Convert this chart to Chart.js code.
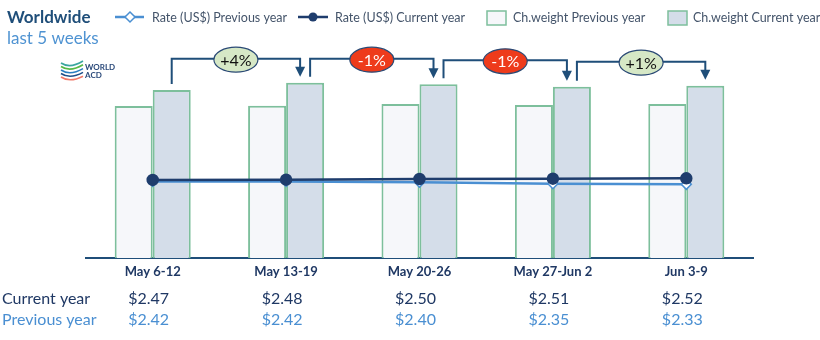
<!DOCTYPE html>
<html>
<head>
<meta charset="utf-8">
<script src="https://cdn.jsdelivr.net/npm/chart.js@4.4.1/dist/chart.umd.min.js"></script>
<style>
  body { margin: 0; background: #fff; }
  #wrap { width: 820px; height: 340px; }
</style>
</head>
<body>
<div id="wrap"><canvas id="chart" width="820" height="340"></canvas></div>
<script>
// weekly worldwide figures
const weeks = ["May 6-12", "May 13-19", "May 20-26", "May 27-Jun 2", "Jun 3-9"];
const weightPrev = [152, 152.3, 154, 153, 154];
const weightCurr = [168, 175.3, 173.7, 171.3, 172.3];
const ratePrev = [2.42, 2.42, 2.40, 2.35, 2.33];
const rateCurr = [2.47, 2.48, 2.50, 2.51, 2.52];

const NAVY = "#1f4e79";
const DARK = "#1f3d6d";
const LIGHT = "#4a8fd2";
const GREEN = "#7dbf9c";
const FILL_PREV = "#f6f7fa";
const FILL_CURR = "#d4dde9";
const FONT = "Lato, 'Open Sans', sans-serif";

function pctLabel(a, b) {
  const p = Math.round((b / a - 1) * 100);
  return (p > 0 ? "+" : "") + p + "%";
}

// week-over-week arrows between the current year bars
const changeArrows = {
  id: "changeArrows",
  afterDatasetsDraw(chart) {
    const ctx = chart.ctx;
    const bars = chart.getDatasetMeta(1).data;
    const n = bars.length;
    ctx.save();
    for (let i = 0; i < n - 1; i++) {
      const a = bars[i], b = bars[i + 1];
      const x1 = a.x + (i > 0 ? 5 : 0);
      const x2 = b.x - (i + 1 < n - 1 ? 5 : 0);
      const level = Math.min(a.y, b.y) - 24;
      const tip = b.y - 6;
      ctx.strokeStyle = NAVY;
      ctx.lineWidth = 2;
      ctx.beginPath();
      ctx.moveTo(x1, a.y - 6);
      ctx.lineTo(x1, level);
      ctx.lineTo(x2, level);
      ctx.lineTo(x2, tip - 9);
      ctx.stroke();
      ctx.fillStyle = NAVY;
      ctx.beginPath();
      ctx.moveTo(x2 - 5, tip - 10);
      ctx.lineTo(x2 + 5, tip - 10);
      ctx.lineTo(x2, tip);
      ctx.closePath();
      ctx.fill();

      const label = pctLabel(weightCurr[i], weightCurr[i + 1]);
      const up = !label.startsWith("-");
      const cx = (x1 + x2) / 2;
      ctx.beginPath();
      ctx.ellipse(cx, level + 1, 22, 12.5, 0, 0, Math.PI * 2);
      ctx.fillStyle = up ? "#d6e8c6" : "#ee3b1b";
      ctx.fill();
      ctx.lineWidth = 1.2;
      ctx.strokeStyle = "#2b4a75";
      ctx.stroke();
      ctx.fillStyle = up ? "#111" : "#fff";
      ctx.font = "16px " + FONT;
      ctx.textAlign = "center";
      ctx.textBaseline = "middle";
      ctx.fillText(label, cx, level + 2);
    }
    ctx.restore();
  }
};

// title, legend, logo and the rate table underneath
const decorations = {
  id: "decorations",
  afterDraw(chart) {
    const ctx = chart.ctx;
    const xs = chart.scales.x;
    ctx.save();
    ctx.textBaseline = "alphabetic";
    ctx.textAlign = "left";
    ctx.fillStyle = NAVY;
    ctx.font = "bold 17px " + FONT;
    ctx.fillText("Worldwide", 7, 23);
    ctx.fillStyle = "#4f93d2";
    ctx.font = "17px " + FONT;
    ctx.fillText("last 5 weeks", 7, 44);

    // legend
    ctx.font = "12.5px " + FONT;
    ctx.textBaseline = "middle";
    ctx.lineWidth = 2.5;
    ctx.strokeStyle = LIGHT;
    ctx.beginPath(); ctx.moveTo(115, 17); ctx.lineTo(144, 17); ctx.stroke();
    ctx.beginPath();
    ctx.moveTo(130, 12); ctx.lineTo(135, 17); ctx.lineTo(130, 22); ctx.lineTo(125, 17); ctx.closePath();
    ctx.fillStyle = "#fff"; ctx.fill();
    ctx.lineWidth = 1.5; ctx.stroke();

    ctx.lineWidth = 2.5;
    ctx.strokeStyle = DARK;
    ctx.beginPath(); ctx.moveTo(298, 17); ctx.lineTo(328, 17); ctx.stroke();
    ctx.beginPath(); ctx.arc(313, 17, 4.5, 0, Math.PI * 2); ctx.fillStyle = DARK; ctx.fill();

    ctx.lineWidth = 1.5;
    ctx.strokeStyle = GREEN;
    ctx.fillStyle = FILL_PREV;
    ctx.fillRect(487, 11, 19, 14); ctx.strokeRect(487, 11, 19, 14);
    ctx.fillStyle = FILL_CURR;
    ctx.fillRect(668, 11, 19, 14); ctx.strokeRect(668, 11, 19, 14);

    ctx.fillStyle = "#44546a";
    ctx.fillText("Rate (US$) Previous year", 152, 18);
    ctx.fillText("Rate (US$) Current year", 335, 18);
    ctx.fillText("Ch.weight Previous year", 513, 18);
    ctx.fillText("Ch.weight Current year", 693, 18);

    // WorldACD logo
    const swoosh = ["#3aa6a0", "#57b947", "#2a7fc1", "#1e4f8a", "#f07a6a"];
    ctx.lineWidth = 1.6;
    swoosh.forEach((c, k) => {
      ctx.strokeStyle = c;
      ctx.beginPath();
      ctx.moveTo(61, 63 + k * 3.5);
      ctx.quadraticCurveTo(70, 69 + k * 3.5, 83, 61 + k * 3.8);
      ctx.stroke();
    });
    ctx.fillStyle = "#2b4a7a";
    ctx.font = "bold 8px " + FONT;
    ctx.textBaseline = "alphabetic";
    ctx.fillText("WORLD", 85, 70);
    ctx.fillText("ACD", 85, 78);

    // rate table
    ctx.font = "16px " + FONT;
    ctx.textBaseline = "middle";
    ctx.fillStyle = "#1f3864";
    ctx.fillText("Current year", 2, 299);
    ctx.fillStyle = LIGHT;
    ctx.fillText("Previous year", 2, 320);
    ctx.textAlign = "center";
    weeks.forEach((w, i) => {
      const x = xs.getPixelForValue(i) - 4;
      ctx.fillStyle = "#1f3864";
      ctx.fillText("$" + rateCurr[i].toFixed(2), x, 299);
      ctx.fillStyle = LIGHT;
      ctx.fillText("$" + ratePrev[i].toFixed(2), x, 320);
    });
    ctx.restore();
  }
};

new Chart(document.getElementById("chart"), {
  data: {
    labels: weeks,
    datasets: [
      {
        type: "bar",
        label: "Ch.weight Previous year",
        data: weightPrev,
        yAxisID: "y",
        backgroundColor: FILL_PREV,
        borderColor: GREEN,
        borderWidth: 2,
        categoryPercentage: 0.57,
        barPercentage: 1,
        order: 2
      },
      {
        type: "bar",
        label: "Ch.weight Current year",
        data: weightCurr,
        yAxisID: "y",
        backgroundColor: FILL_CURR,
        borderColor: GREEN,
        borderWidth: 2,
        categoryPercentage: 0.57,
        barPercentage: 1,
        order: 2
      },
      {
        type: "line",
        label: "Rate (US$) Previous year",
        data: ratePrev,
        yAxisID: "y1",
        borderColor: LIGHT,
        borderWidth: 2.5,
        pointStyle: "rectRot",
        pointRadius: 5,
        pointBackgroundColor: "#fff",
        pointBorderColor: LIGHT,
        pointBorderWidth: 1.5,
        order: 1
      },
      {
        type: "line",
        label: "Rate (US$) Current year",
        data: rateCurr,
        yAxisID: "y1",
        borderColor: DARK,
        borderWidth: 2.5,
        pointRadius: 5,
        pointBackgroundColor: DARK,
        pointBorderColor: DARK,
        order: 0
      }
    ]
  },
  options: {
    responsive: false,
    animation: false,
    devicePixelRatio: 1,
    layout: { padding: { top: 21, left: 86, right: 67, bottom: 0 } },
    scales: {
      x: {
        offset: true,
        grid: { display: false, drawTicks: false },
        border: { color: NAVY, width: 2 },
        ticks: { color: "#1f3864", padding: 6, font: { family: FONT, size: 13, weight: "bold" } },
        afterFit: (scale) => { scale.height = 82; }
      },
      y: { display: false, min: 0, max: 237 },
      y1: { display: false, min: 0, max: 7.5 }
    },
    plugins: {
      legend: { display: false },
      tooltip: { enabled: false }
    }
  },
  plugins: [changeArrows, decorations]
});
</script>
</body>
</html>
